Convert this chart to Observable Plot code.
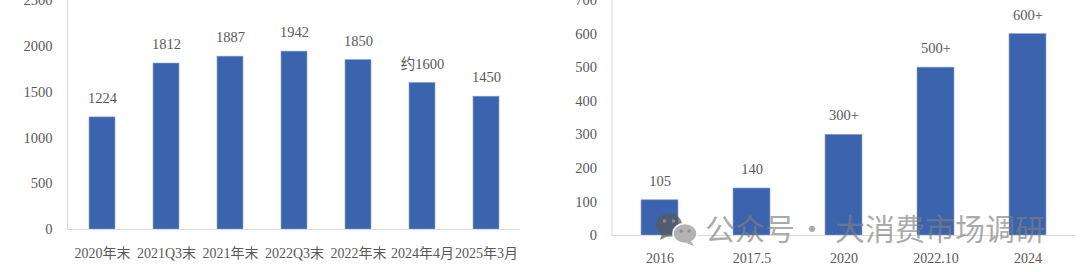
<!DOCTYPE html>
<html>
<head>
<meta charset="utf-8">
<script src="https://cdn.jsdelivr.net/npm/d3@7"></script>
<script src="https://cdn.jsdelivr.net/npm/@observablehq/plot@0.6"></script>
<style>
  html, body { margin: 0; padding: 0; background: #fff; }
  #wrap { position: relative; width: 1080px; height: 272px; overflow: hidden; background: #fff; }
  #left { position: absolute; left: 0; top: 0; }
  #right { position: absolute; left: 540px; top: 0; }
  #wm { position: absolute; left: 0; top: 0; pointer-events: none; }
</style>
</head>
<body>
<div id="wrap">
  <div id="left"></div>
  <div id="right"></div>
  <svg id="wm" width="1080" height="272" xmlns="http://www.w3.org/2000/svg">
    <g opacity="0.75">
      <ellipse cx="669" cy="225" rx="13" ry="11.5" fill="#5a5a5a"/>
      <path d="M662 234 L660 240 L668 236 Z" fill="#5a5a5a"/>
      <circle cx="664.5" cy="221" r="1.8" fill="#9a9a9a"/>
      <circle cx="673.5" cy="221" r="1.8" fill="#9a9a9a"/>
    </g>
    <g>
      <ellipse cx="685" cy="233.5" rx="12" ry="10" fill="#b3b3b3" stroke="#fff" stroke-width="1.5"/>
      <path d="M691 241 L694 246 L686 243 Z" fill="#b3b3b3"/>
      <circle cx="681" cy="231" r="1.6" fill="#8a8a8a"/>
      <circle cx="689" cy="231" r="1.6" fill="#8a8a8a"/>
    </g>
    <g fill="#7f7f7f" fill-opacity="0.68" font-family="'Noto Sans CJK SC', sans-serif" font-size="30" dominant-baseline="central">
      <text x="705" y="227">公众号</text>
      <text x="812" y="227" text-anchor="middle">·</text>
      <text x="835" y="227">大消费市场调研</text>
    </g>
  </svg>
</div>
<script>
// ---- Left chart data ----
const leftCategories = ["2020年末", "2021Q3末", "2021年末", "2022Q3末", "2022年末", "2024年4月", "2025年3月"];
const leftValues = [1224, 1812, 1887, 1942, 1850, 1600, 1450];
const leftLabels = ["1224", "1812", "1887", "1942", "1850", "约1600", "1450"];
const leftTicks = [0, 500, 1000, 1500, 2000, 2500];

// ---- Right chart data ----
const rightCategories = ["2016", "2017.5", "2020", "2022.10", "2024"];
const rightValues = [105, 140, 300, 500, 600];
const rightLabels = ["105", "140", "300+", "500+", "600+"];
const rightTicks = [0, 100, 200, 300, 400, 500, 600, 700];

const FONT = "'Liberation Serif', 'Noto Sans CJK SC', serif";
const TEXT = "#595959";
const BAR = "#3c64ae";
const LINE = "#d9d9d9";

function makeChart({cats, vals, labels, ticks, ymax, width, mL, mR, mB, padX}) {
  const data = cats.map((c, i) => ({cat: c, value: vals[i], label: labels[i]}));
  return Plot.plot({
    width, height: 272,
    marginLeft: mL, marginRight: mR, marginTop: 0, marginBottom: mB,
    style: {fontFamily: FONT, fontSize: "14.5px", color: TEXT, background: "transparent"},
    x: {domain: cats, paddingInner: 0.6, paddingOuter: 0.3, align: 0.5, label: null, axis: null},
    y: {domain: [0, ymax], label: null, axis: null},
    marks: [
      Plot.frame({anchor: "left", stroke: LINE}),
      Plot.axisY(ticks, {tickFormat: d => String(d), tickSize: 0, tickPadding: 15, fontSize: 14.5, label: null}),
      Plot.axisX({tickSize: 0, tickPadding: padX, fontSize: 14, label: null}),
      Plot.barY(data, {x: "cat", y: "value", fill: BAR, stroke: "#8aa3d4", strokeWidth: 0.6}),
      Plot.ruleY([0], {stroke: LINE, strokeWidth: 1.2}),
      Plot.text(data, {x: "cat", y: "value", text: "label", dy: -19, fill: TEXT, fontSize: 14.5})
    ]
  });
}

document.getElementById("left").append(makeChart({
  cats: leftCategories, vals: leftValues, labels: leftLabels, ticks: leftTicks, ymax: 2500,
  width: 540, mL: 67, mR: 20, mB: 43, padX: 18.5
}));

document.getElementById("right").append(makeChart({
  cats: rightCategories, vals: rightValues, labels: rightLabels, ticks: rightTicks, ymax: 700,
  width: 540, mL: 71.5, mR: 4.5, mB: 37, padX: 17.5
}));
</script>
</body>
</html>
